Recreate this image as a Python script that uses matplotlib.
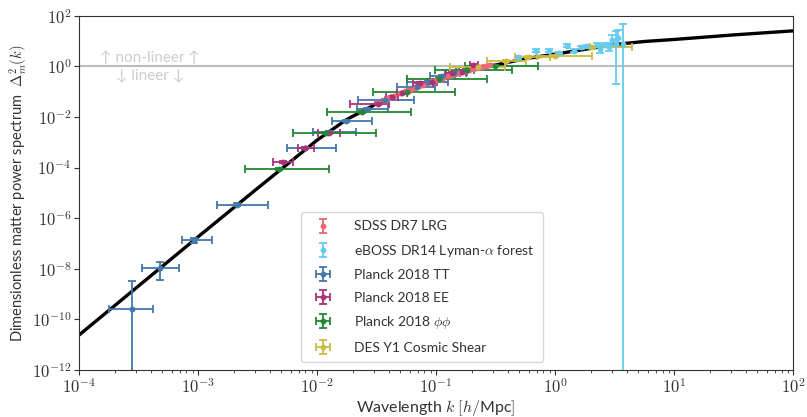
import numpy as np
import matplotlib.pyplot as plt
from matplotlib.ticker import FuncFormatter, NullLocator

plt.rcParams['font.family'] = ['Lato', 'DejaVu Sans']
plt.rcParams['mathtext.fontset'] = 'cm'
plt.rcParams['text.color'] = '#333333'
plt.rcParams['axes.labelcolor'] = '#333333'
plt.rcParams['xtick.color'] = '#333333'
plt.rcParams['ytick.color'] = '#333333'

# all values as log10
curve_logk = [-4.0, -3.5, -3.0, -2.5, -2.25, -2.0, -1.75, -1.5, -1.25, -1.0, -0.75,
              -0.5, -0.25, 0.0, 0.25, 0.5, 0.75, 1.0, 1.25, 1.5, 1.75, 2.0]
curve_logd = [-10.62, -8.68, -6.74, -4.82, -3.87, -2.92, -2.10, -1.48, -0.98, -0.55, -0.20,
              0.05, 0.30, 0.48, 0.67, 0.86, 0.98, 1.06, 1.15, 1.24, 1.32, 1.40]

sdss_logk = [-1.49, -1.44, -1.40, -1.35, -1.30, -1.26, -1.22, -1.18, -1.14, -1.11, -1.07, -1.04,
             -1.00, -0.97, -0.94, -0.90, -0.87, -0.84, -0.81, -0.78, -0.75, -0.72, -0.69, -0.66,
             -0.63, -0.61, -0.58, -0.55]
sdss_logd = [-1.45, -1.35, -1.26, -1.17, -1.07, -0.99, -0.92, -0.85, -0.77, -0.72, -0.65, -0.60,
             -0.54, -0.49, -0.45, -0.39, -0.35, -0.31, -0.27, -0.23, -0.19, -0.15, -0.11, -0.08,
             -0.04, -0.02, 0.02, 0.05]

boss_logk = [-0.31, -0.16, -0.05, 0.03, 0.10, 0.16, 0.22, 0.27, 0.35, 0.38, 0.42, 0.45,
             0.48, 0.51, 0.53, 0.575]
boss_logd = [0.36, 0.62, 0.62, 0.52, 0.82, 0.62, 0.75, 0.80, 0.85, 0.68, 0.85, 0.77,
             1.05, 0.90, 1.10, 0.88]
boss_lo = [0.30, 0.56, 0.57, 0.47, 0.75, 0.56, 0.69, 0.74, 0.79, 0.52, 0.76, 0.60,
           0.83, -0.70, 0.75, -30]
boss_hi = [0.42, 0.68, 0.68, 0.57, 0.88, 0.68, 0.80, 0.86, 0.91, 0.85, 0.93, 0.92,
           1.25, 1.40, 1.45, 1.67]

tt_logk = [-3.557, -3.319, -3.036, -2.675, -2.101, -1.90, -1.756, -1.583, -1.43, -1.163,
           -1.065, -0.95, -0.85, -0.75]
tt_logd = [-9.57, -7.96, -6.88, -5.47, -3.24, -2.60, -2.16, -1.70, -1.33, -0.81,
           -0.61, -0.40, -0.27, -0.15]
tt_klo = [-3.745, -3.468, -3.137, -2.843, -2.255, -2.037, -1.877, -1.661, -1.653, -1.33,
          -1.247, -1.05, -0.92, -0.81]
tt_khi = [-3.376, -3.157, -2.882, -2.414, -1.840, -1.672, -1.540, -1.400, -1.182, -1.008,
          -0.897, -0.84, -0.75, -0.68]
tt_dlo = [-30, -8.45, -7.0, -5.52, -3.28, -2.64, -2.20, -1.74, -1.37, -0.85,
          -0.65, -0.44, -0.31, -0.19]
tt_dhi = [-8.49, -7.74, -6.78, -5.42, -3.20, -2.56, -2.12, -1.66, -1.29, -0.77,
          -0.57, -0.36, -0.23, -0.11]

ee_logk = [-2.283, -2.101, -1.897, -1.485, -1.372, -1.288, -1.134, -1.037, -0.868, -0.784, -0.687]
ee_logd = [-3.79, -3.21, -2.65, -1.49, -1.23, -1.07, -0.67, -0.61, -0.28, -0.21, 0.05]
ee_klo = [-2.367, -2.157, -1.990, -1.723, -1.420, -1.330, -1.193, -1.080, -0.924, -0.830, -0.714]
ee_khi = [-2.199, -2.025, -1.807, -1.392, -1.320, -1.240, -1.025, -0.990, -0.798, -0.740, -0.644]

pp_logk = [-2.317, -1.924, -1.625, -1.247, -0.972, -0.737, -0.504]
pp_logd = [-4.06, -2.65, -1.79, -1.00, -0.50, -0.15, 0.00]
pp_klo = [-2.608, -2.205, -1.919, -1.527, -1.247, -1.008, -0.756]
pp_khi = [-1.899, -1.504, -1.213, -0.840, -0.575, -0.360, -0.143]

des_logk = [-0.65, -0.41, -0.23, 0.00, 0.31]
des_logd = [-0.02, 0.22, 0.38, 0.42, 0.78]
des_klo = [-0.88, -0.57, -0.34, -0.15, 0.29]
des_khi = [-0.42, -0.24, -0.04, 0.31, 0.65]

colors = {'sdss': '#EE6677', 'boss': '#66CCEE', 'tt': '#4477AA',
          'ee': '#AA3377', 'pp': '#228833', 'des': '#CCBB44'}


def lin(v):
    return 10.0 ** np.asarray(v, dtype=float)


def draw_set(ax, logk, logd, color, label, klo=None, khi=None, dlo=None, dhi=None, dy=0.04):
    k = lin(logk)
    d = lin(logd)
    xerr = None
    if klo is not None:
        xerr = [k - lin(klo), lin(khi) - k]
    if dlo is None:
        dlo = np.asarray(logd) - dy
        dhi = np.asarray(logd) + dy
    yerr = [d - lin(dlo), lin(dhi) - d]
    ax.errorbar(k, d, xerr=xerr, yerr=yerr, fmt='o', ms=3.2, color=color, ecolor=color,
                elinewidth=1.3, capsize=3, capthick=1.3, label=label, zorder=3)


fig = plt.figure(figsize=(8.07, 4.17), dpi=100)
ax = fig.add_axes([0.0979, 0.1127, 0.8848, 0.8497])

ax.plot(lin(curve_logk), lin(curve_logd), color='black', lw=2.4, zorder=2)
ax.axhline(1.0, color='#bbbbbb', lw=1.5, zorder=1)

draw_set(ax, sdss_logk, sdss_logd, colors['sdss'], 'SDSS DR7 LRG', dy=0.03)
draw_set(ax, boss_logk, boss_logd, colors['boss'], r'eBOSS DR14 Lyman-$\alpha$ forest',
         dlo=boss_lo, dhi=boss_hi)
draw_set(ax, tt_logk, tt_logd, colors['tt'], 'Planck 2018 TT', tt_klo, tt_khi, tt_dlo, tt_dhi)
draw_set(ax, ee_logk, ee_logd, colors['ee'], 'Planck 2018 EE', ee_klo, ee_khi)
draw_set(ax, pp_logk, pp_logd, colors['pp'], r'Planck 2018 $\phi\phi$', pp_klo, pp_khi)
draw_set(ax, des_logk, des_logd, colors['des'], 'DES Y1 Cosmic Shear', des_klo, des_khi)

ax.text(10 ** -3.40, 10 ** 0.33, '↑ non-lineer ↑', color='#cccccc', fontsize=11,
        ha='center', va='center', family=['Lato', 'DejaVu Sans'])
ax.text(10 ** -3.40, 10 ** -0.38, '↓ lineer ↓', color='#cccccc', fontsize=11,
        ha='center', va='center', family=['Lato', 'DejaVu Sans'])

ax.set_xscale('log')
ax.set_yscale('log')
ax.set_xlim(1e-4, 1e2)
ax.set_ylim(1e-12, 1e2)
ax.set_yticks(10.0 ** np.arange(-12, 3, 2))
ax.yaxis.set_minor_locator(NullLocator())
fmt = FuncFormatter(lambda v, p: r'$10^{%d}$' % round(np.log10(v)))
ax.xaxis.set_major_formatter(fmt)
ax.yaxis.set_major_formatter(fmt)
ax.tick_params(labelsize=12, pad=2)
for s in ax.spines.values():
    s.set_color('#333333')

ax.set_xlabel(r'Wavelength $k$ $[h/$Mpc$]$', fontsize=11.5, labelpad=1)
ax.set_ylabel(r'Dimensionless matter power spectrum  $\Delta^2_m(k)$', fontsize=10.5, labelpad=2)

ax.legend(loc='lower left', bbox_to_anchor=(0.311, 0.023), borderaxespad=0, fontsize=10,
          frameon=True, edgecolor='#cccccc', labelspacing=0.75, handletextpad=1.2,
          borderpad=0.6)

fig.savefig('out.png', dpi=100)
